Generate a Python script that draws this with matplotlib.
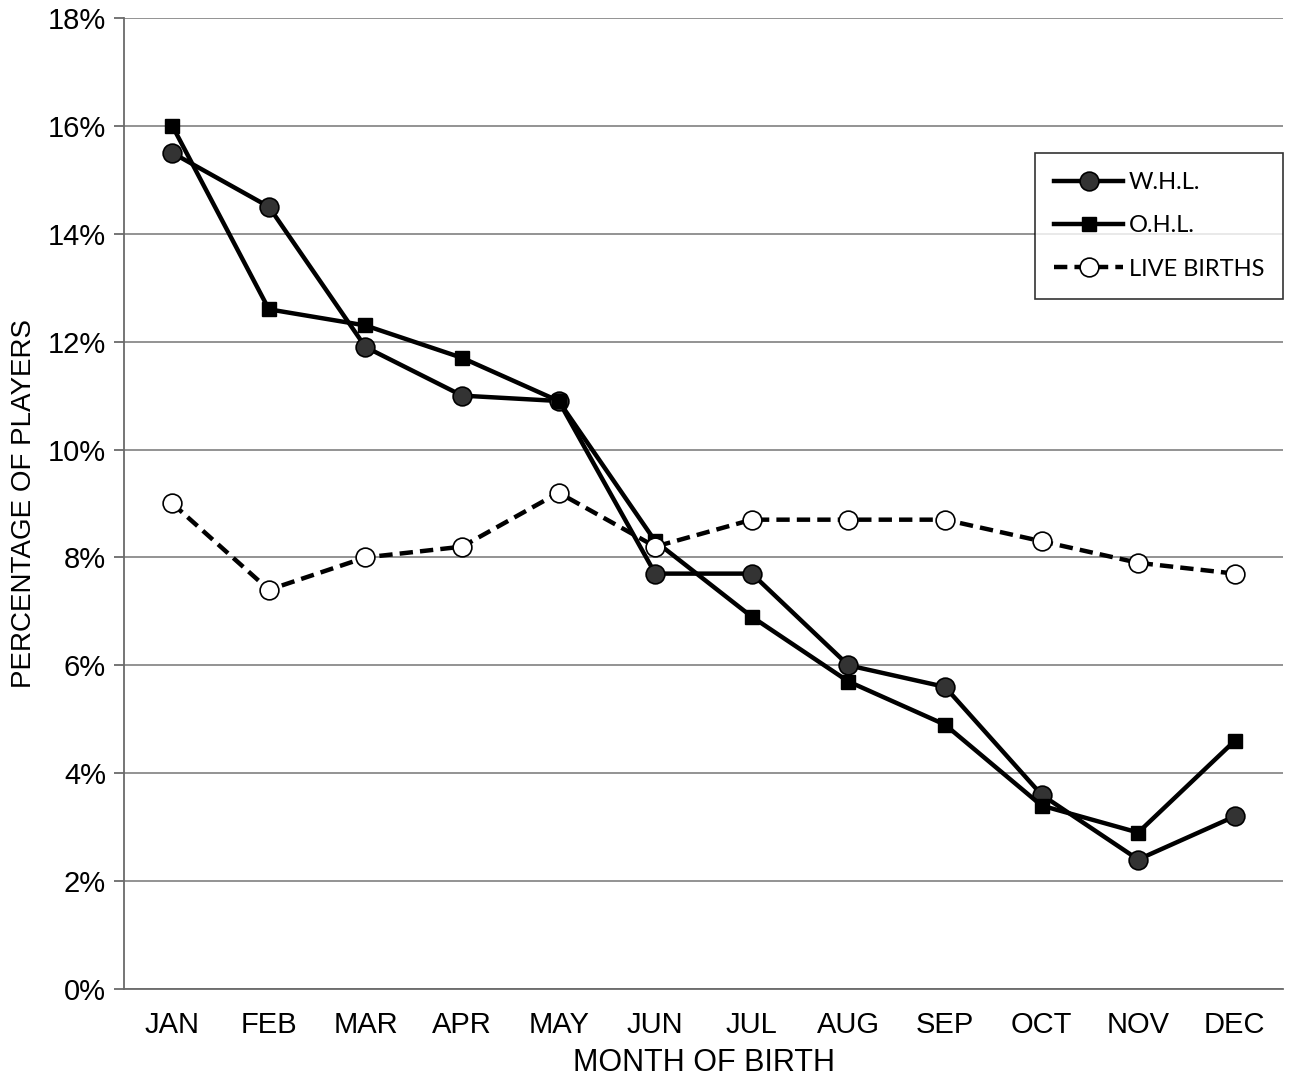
import matplotlib
matplotlib.use("Agg")
import matplotlib.pyplot as plt
from matplotlib.ticker import FuncFormatter

months = ["JAN", "FEB", "MAR", "APR", "MAY", "JUN", "JUL", "AUG", "SEP", "OCT", "NOV", "DEC"]
whl = [15.5, 14.5, 11.9, 11.0, 10.9, 7.7, 7.7, 6.0, 5.6, 3.6, 2.4, 3.2]
ohl = [16.0, 12.6, 12.3, 11.7, 10.9, 8.3, 6.9, 5.7, 4.9, 3.4, 2.9, 4.6]
live = [9.0, 7.4, 8.0, 8.2, 9.2, 8.2, 8.7, 8.7, 8.7, 8.3, 7.9, 7.7]

plt.rcParams['font.family'] = ['Liberation Sans', 'DejaVu Sans']

fig = plt.figure(figsize=(12.96, 10.85), dpi=100)
ax = fig.add_axes([0.0957, 0.0885, 0.8943, 0.8949])

x = list(range(len(months)))
ax.plot(x, whl, color='black', lw=3.2, marker='o', ms=13.5, mfc='#333333', mec='black', mew=1.2, label='W.H.L.', zorder=3)
ax.plot(x, ohl, color='black', lw=3.2, marker='s', ms=10.5, mfc='black', mec='black', label='O.H.L.', zorder=3)
ax.plot(x, live, color='black', lw=3.2, ls=(0, (3, 1.6)), marker='o', ms=13.5, mfc='white', mec='black', mew=1.2, label='LIVE BIRTHS', zorder=4)

ax.set_xlim(-0.5, 11.5)
ax.set_ylim(0, 18)
ax.set_yticks(range(0, 19, 2))
ax.yaxis.set_major_formatter(FuncFormatter(lambda v, p: f"{int(v)}%"))
ax.set_xticks(x)
ax.set_xticklabels(months)
ax.grid(axis='y', color='#8a8a8a', lw=1.3)
ax.set_axisbelow(True)
for s in ['top', 'right']:
    ax.spines[s].set_visible(False)
ax.spines['left'].set_color('#6a6a6a')
ax.spines['bottom'].set_color('#6a6a6a')
ax.spines['left'].set_linewidth(1.3)
ax.spines['bottom'].set_linewidth(1.3)
ax.tick_params(axis='y', length=7, width=1.3, color='#6a6a6a', labelsize=21, pad=6)
ax.tick_params(axis='x', length=0, labelsize=21, pad=16)
ax.set_xlabel("MONTH OF BIRTH", fontsize=22, labelpad=6)
ax.set_ylabel("PERCENTAGE OF PLAYERS", fontsize=20, labelpad=8)

leg = ax.legend(loc='upper right', bbox_to_anchor=(1.0, 0.861), borderaxespad=0, frameon=True, fancybox=False,
                edgecolor='black', prop={'family': 'Lato', 'size': 17}, handlelength=2.9,
                labelspacing=0.95, borderpad=0.8, handletextpad=0.25)
leg.get_frame().set_linewidth(1.2)

fig.savefig("out.png", dpi=100, facecolor='white')
